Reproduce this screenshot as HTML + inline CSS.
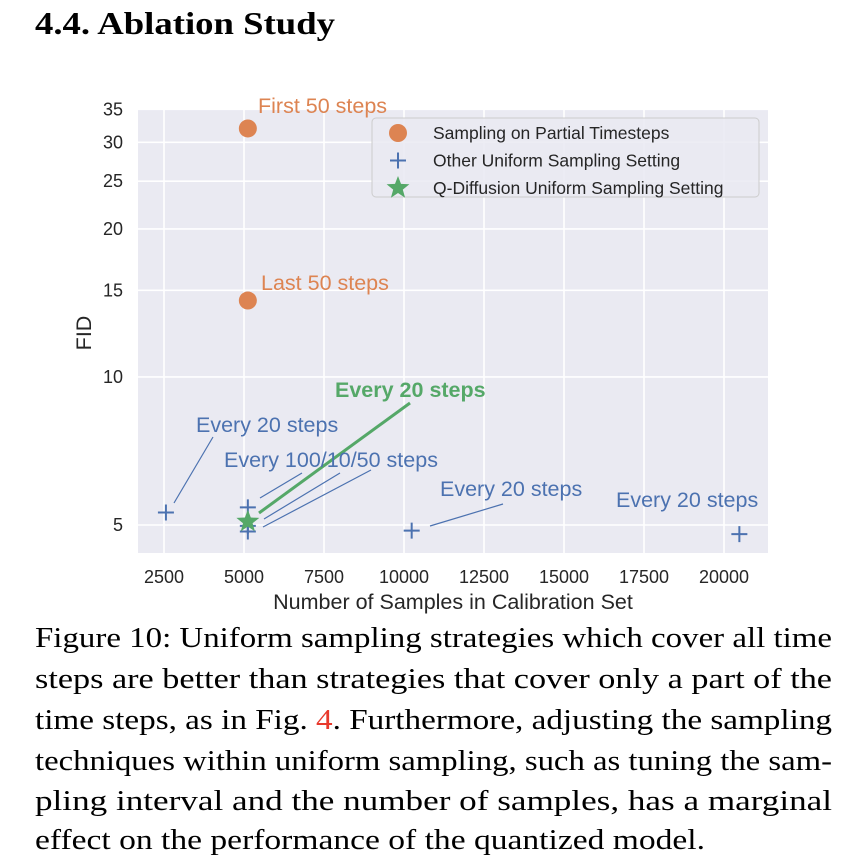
<!DOCTYPE html>
<html><head><meta charset="utf-8"><style>
html,body{margin:0;padding:0;background:#fff;}
svg{display:block;}
</style></head><body>
<svg id="page" width="852" height="862" viewBox="0 0 852 862" xmlns="http://www.w3.org/2000/svg" font-family="'Liberation Sans', sans-serif">
<text x="35" y="34" font-family="'Liberation Serif', serif" font-weight="bold" font-size="32" textLength="300" lengthAdjust="spacingAndGlyphs" fill="#000">4.4. Ablation Study</text>
<g id="chart"></g>
<g font-family="'Liberation Serif', serif" font-size="29" fill="#000">
<text x="35" y="647" textLength="797" lengthAdjust="spacingAndGlyphs">Figure 10: Uniform sampling strategies which cover all time</text>
<text x="35" y="688" textLength="797" lengthAdjust="spacingAndGlyphs">steps are better than strategies that cover only a part of the</text>
<text x="35" y="729" textLength="797" lengthAdjust="spacingAndGlyphs">time steps, as in Fig. <tspan fill="#e8392c">4</tspan>. Furthermore, adjusting the sampling</text>
<text x="35" y="770" textLength="797" lengthAdjust="spacingAndGlyphs">techniques within uniform sampling, such as tuning the sam-</text>
<text x="35" y="810" textLength="797" lengthAdjust="spacingAndGlyphs">pling interval and the number of samples, has a marginal</text>
<text x="35" y="849" textLength="670" lengthAdjust="spacingAndGlyphs">effect on the performance of the quantized model.</text>
</g>
</svg>
<script>
const xTicks = [2500, 5000, 7500, 10000, 12500, 15000, 17500, 20000];
const yTicks = [5, 10, 15, 20, 25, 30, 35];
const partialX = [5120, 5120];
const partialY = [32.0, 14.3];
const otherX = [2560, 5120, 5120, 5120, 10240, 20480];
const otherY = [5.30, 5.43, 4.98, 4.85, 4.87, 4.79];
const qdiffX = [5120];
const qdiffY = [5.08];

const NS = 'http://www.w3.org/2000/svg';
const L = 138, R = 768, T = 110, B = 553;
function xs(v){ return 164 + (v - 2500) * 0.032; }
function ys(v){ return 525 - Math.log(v / 5) * 213.6; }
const chart = document.getElementById('chart');
function mk(tag, attrs, parent){
  const e = document.createElementNS(NS, tag);
  for (const k in attrs) e.setAttribute(k, attrs[k]);
  (parent || chart).appendChild(e);
  return e;
}
const bg = mk('rect', {x:L, y:T, width:R-L, height:B-T, fill:'#eaeaf2'});


xTicks.forEach(t => {
  const g = mk('line', {x1:xs(t), x2:xs(t), y1:T, y2:B, stroke:'#fff', 'stroke-width':1.6});
  
  
  const tx = mk('text', {x:xs(t), y:583, 'text-anchor':'middle', 'font-size':18, fill:'#262626'});
  tx.textContent = t;
  
  
});
yTicks.forEach(t => {
  const g = mk('line', {x1:L, x2:R, y1:ys(t), y2:ys(t), stroke:'#fff', 'stroke-width':1.6});
  
  
  const tx = mk('text', {x:123, y:ys(t)+6, 'text-anchor':'end', 'font-size':18, fill:'#262626'});
  tx.textContent = t;
  
  
});
const xt = mk('text', {x:453, y:609, 'text-anchor':'middle', 'font-size':21.5, fill:'#262626'});
xt.textContent = 'Number of Samples in Calibration Set';


const yt = mk('text', {x:0, y:0, 'text-anchor':'middle', 'font-size':21.5, fill:'#262626', transform:'translate(91,333) rotate(-90)'});
yt.textContent = 'FID';



const blue = '#4c72b0', orange = '#dd8452', green = '#55a868';
const leaders = [
  [213,437,174,503,blue,1.2],[302,473,260,498,blue,1.2],[340,473,264,519,blue,1.2],
  [371,470,263,527,blue,1.2],[503,504,430,526,blue,1.2],[410,403,259,513,green,3]
];
leaders.forEach(a => {
  const l = mk('line', {x1:a[0], y1:a[1], x2:a[2], y2:a[3], stroke:a[4], 'stroke-width':a[5]});
  
  
});

function cross(cx, cy, r, parent){
  return mk('path', {d:`M${cx-r},${cy}H${cx+r}M${cx},${cy-r}V${cy+r}`, stroke:blue, 'stroke-width':2, fill:'none'}, parent);
}
function star(cx, cy, r, parent){
  let d = '';
  for (let i = 0; i < 10; i++) {
    const rr = i % 2 ? r * 0.42 : r;
    const a = -Math.PI/2 + i * Math.PI/5;
    d += (i ? 'L' : 'M') + (cx + rr*Math.cos(a)).toFixed(1) + ',' + (cy + rr*Math.sin(a)).toFixed(1);
  }
  return mk('path', {d:d+'Z', fill:green}, parent);
}
partialX.forEach((v, i) => {
  const c = mk('circle', {cx:xs(v), cy:ys(partialY[i]), r:9, fill:orange});
  
  
});
otherX.forEach((v, i) => {
  const c = cross(xs(v), ys(otherY[i]), 8);
  
  
});
qdiffX.forEach((v, i) => {
  const s = star(xs(v), ys(qdiffY[i]), 12);
  
  
});

const labels = [
  [258,113,'First 50 steps',orange,'normal'],[261,290,'Last 50 steps',orange,'normal'],
  [335,397,'Every 20 steps',green,'bold'],[196,432,'Every 20 steps',blue,'normal'],
  [224,467,'Every 100/10/50 steps',blue,'normal'],[440,496,'Every 20 steps',blue,'normal'],
  [616,507,'Every 20 steps',blue,'normal']
];
labels.forEach(a => {
  const t = mk('text', {x:a[0], y:a[1], 'font-size':21.5, fill:a[3], 'font-weight':a[4]});
  t.textContent = a[2];
  
  
});

const lg = mk('g', {});


mk('rect', {x:372, y:118, width:387, height:79, rx:4, fill:'#eaeaf2', 'fill-opacity':0.85, stroke:'#cccccc', 'stroke-width':1}, lg);
const entries = ['Sampling on Partial Timesteps', 'Other Uniform Sampling Setting', 'Q-Diffusion Uniform Sampling Setting'];
entries.forEach((txt, i) => {
  const y = 133 + i * 27.5;
  let m;
  if (i === 0) m = mk('circle', {cx:398, cy:y, r:9, fill:orange}, lg);
  else if (i === 1) m = cross(398, y, 8, lg);
  else m = star(398, y, 12, lg);
  
  
  const t = mk('text', {x:433, y:y+6, 'font-size':17.5, fill:'#262626'}, lg);
  t.textContent = txt;
  
  
});
</script>
</body></html>
